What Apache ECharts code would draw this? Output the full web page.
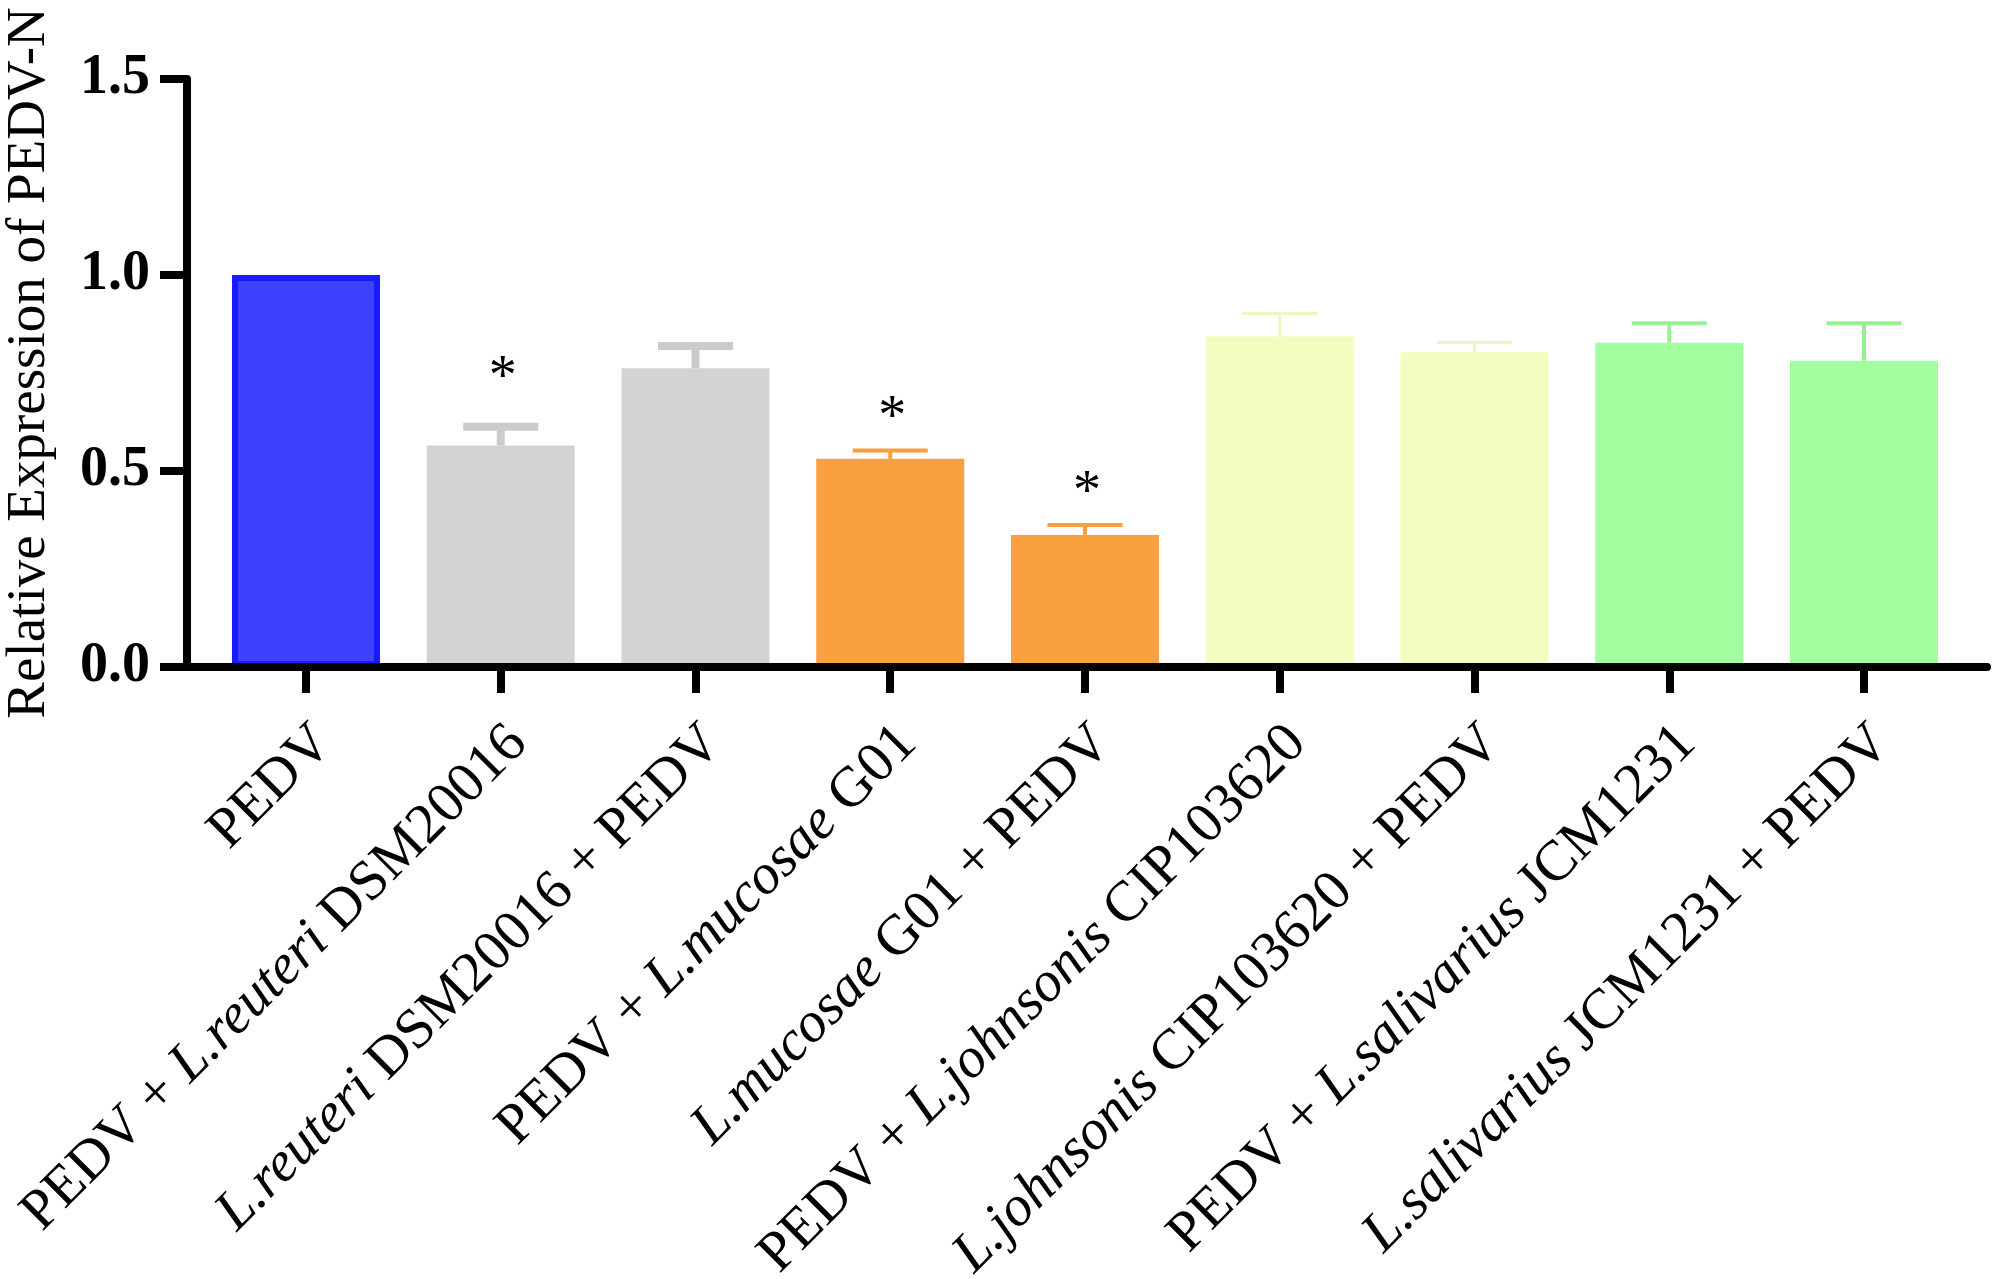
<!DOCTYPE html>
<html><head><meta charset="utf-8">
<script src="https://cdn.jsdelivr.net/npm/echarts@6/dist/echarts.min.js"></script>
<style>html,body{margin:0;padding:0;background:#fff}#c{width:1995px;height:1279px}</style>
</head><body><div id="c"></div>
<script>
// ---- data ----
const categories = [
  'PEDV',
  'PEDV + L.reuteri DSM20016',
  'L.reuteri DSM20016 + PEDV',
  'PEDV + L.mucosae G01',
  'L.mucosae G01 + PEDV',
  'PEDV + L.johnsonis CIP103620',
  'L.johnsonis CIP103620 + PEDV',
  'PEDV + L.salivarius JCM1231',
  'L.salivarius JCM1231 + PEDV'
];
const means  = [1.0, 0.565, 0.762, 0.531, 0.337, 0.843, 0.803, 0.827, 0.781];
const errors = [0, 0.048, 0.057, 0.021, 0.025, 0.059, 0.025, 0.050, 0.096];
const significance = ['', '*', '', '*', '*', '', '', '', ''];
const yTickValues = [0, 0.5, 1.0, 1.5];
const yAxisTitle = 'Relative Expression of PEDV-N';

// ---- styles ----
const fillColors = ['#4040ff', '#d3d3d3', '#d3d3d3', '#fba040', '#fba040', '#f2fdc0', '#f2fdc0', '#a2fe9e', '#a2fe9e'];
const errColors  = ['#1a1aff', '#cbcbcb', '#cbcbcb', '#f7a03c', '#f7a03c', '#eef6bd', '#eef6bd', '#98f095', '#98f095'];
const errWidths  = [0, 8, 8, 4, 4, 3, 3, 4, 4];
const FONT = "'Liberation Serif', 'Times New Roman', serif";

const chart = echarts.init(document.getElementById('c'), null, {renderer: 'canvas'});

const barData = means.map((v, i) => ({
  value: v,
  itemStyle: i === 0
    ? {color: fillColors[i], borderColor: '#1a1aff', borderWidth: 6}
    : {color: fillColors[i]}
}));
const errData = means.map((v, i) => [i, v, v + errors[i], i]);

const option = {
  animation: false,
  backgroundColor: '#fff',
  grid: [
    {left: 208.6, right: 33.6, top: 79, bottom: 612, outerBoundsMode: 'none', containLabel: false},
    {left: 187, right: 8, top: 79, bottom: 612, outerBoundsMode: 'none', containLabel: false}
  ],
  xAxis: [
    {
      type: 'category', gridIndex: 0, data: categories,
      axisLine: {show: false},
      axisTick: {show: true, alignWithLabel: true, length: 26, lineStyle: {color: '#000', width: 8}},
      axisLabel: {
        interval: 0, rotate: 45, margin: 50, color: '#000',
        fontFamily: FONT, fontSize: 57, lineHeight: 50, verticalAlign: 'top',
        formatter: v => v.replace(/(L\.[a-z]+)/, '{i|$1}'),
        rich: {i: {fontStyle: 'italic', fontFamily: FONT, fontSize: 57, lineHeight: 50, color: '#000'}}
      },
      splitLine: {show: false}
    },
    {
      type: 'value', gridIndex: 1, min: 0, max: 1, z: 10,
      axisLine: {show: true, onZero: false, lineStyle: {color: '#000', width: 8}},
      axisTick: {show: false}, axisLabel: {show: false}, splitLine: {show: false}
    }
  ],
  yAxis: [
    {type: 'value', gridIndex: 0, min: 0, max: 1.5, show: false},
    {
      type: 'value', gridIndex: 1, min: 0, max: 1.5, interval: 0.5, z: 10,
      axisLine: {show: true, lineStyle: {color: '#000', width: 8}},
      axisTick: {show: true, length: 27, lineStyle: {color: '#000', width: 8}},
      axisLabel: {
        margin: 37, color: '#000', fontFamily: FONT, fontSize: 56, fontWeight: 'bold',
        formatter: v => yTickValues.indexOf(v) >= 0 ? v.toFixed(1) : ''
      },
      splitLine: {show: false},
      name: yAxisTitle, nameLocation: 'middle', nameGap: 130,
      nameTextStyle: {color: '#000', fontFamily: FONT, fontSize: 55, padding: [0, 0, 0, 20]}
    }
  ],
  series: [
    {
      type: 'bar', xAxisIndex: 0, yAxisIndex: 0,
      data: barData, barWidth: '76%'
    },
    {
      type: 'custom', xAxisIndex: 0, yAxisIndex: 0, z: 5,
      data: errData,
      renderItem: function (params, api) {
        const i = api.value(3);
        const children = [];
        const p0 = api.coord([api.value(0), api.value(1)]);
        const p1 = api.coord([api.value(0), api.value(2)]);
        const lw = errWidths[i];
        if (errors[i] > 0) {
          const half = 37.5;
          children.push({type: 'line', shape: {x1: p0[0], y1: p0[1], x2: p1[0], y2: p1[1]},
            style: {stroke: errColors[i], lineWidth: lw}});
          children.push({type: 'line', shape: {x1: p1[0] - half, y1: p1[1], x2: p1[0] + half, y2: p1[1]},
            style: {stroke: errColors[i], lineWidth: lw}});
        }
        if (significance[i]) {
          children.push({type: 'text', x: p1[0] + 2, y: p1[1] - (15 + lw * 4),
            style: {text: significance[i], fill: '#000', font: '56px ' + FONT,
              textAlign: 'center', textVerticalAlign: 'middle'}});
        }
        return {type: 'group', children: children};
      }
    }
  ]
};
chart.setOption(option);
</script>
</body></html>
